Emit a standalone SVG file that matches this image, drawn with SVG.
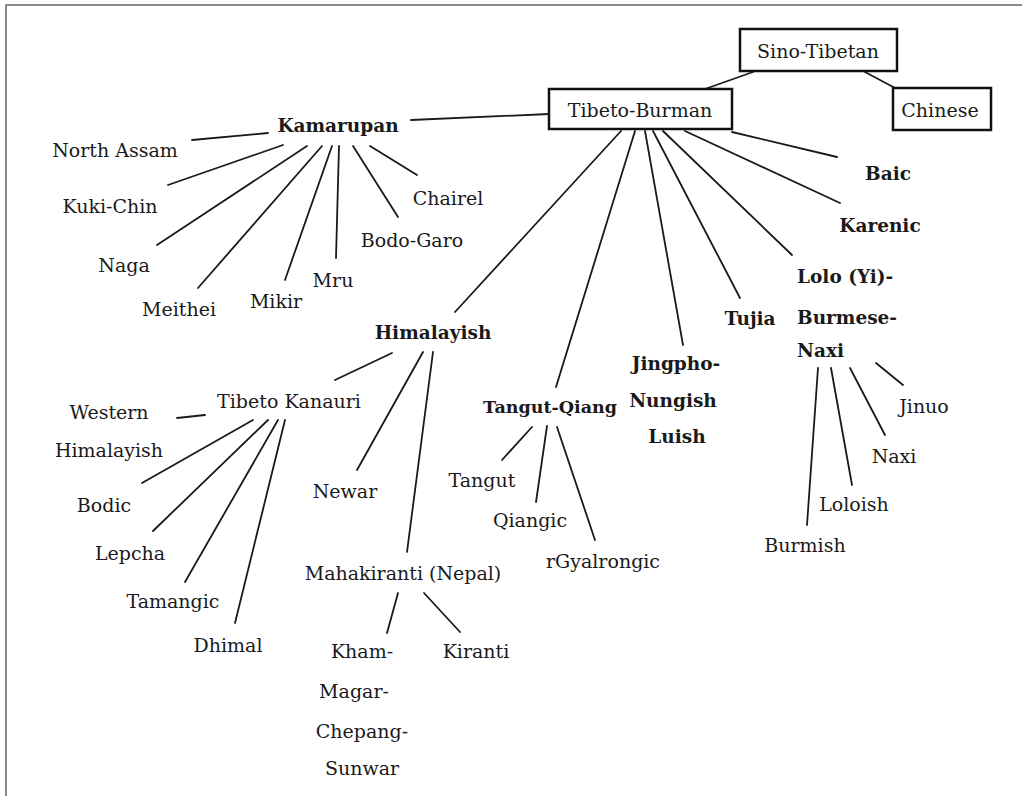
<svg xmlns="http://www.w3.org/2000/svg" width="1022" height="796" viewBox="0 0 1022 796">
<style>
text{font-family:"DejaVu Serif","Liberation Serif",serif;font-size:19px;fill:#1a1a1a;text-anchor:middle}
.b{font-weight:bold;font-size:18.5px}
.l{text-anchor:start}
.box{fill:#fff;stroke:#111;stroke-width:2.5}
#edges line{stroke:#1a1a1a;stroke-width:1.8;stroke-linecap:round}
</style>
<rect width="1022" height="796" fill="#fff"/>
<path d="M6,796 V5 H1022" fill="none" stroke="#666" stroke-width="1.5"/>
<g id="edges">
<line x1="753" y1="72" x2="705" y2="89"/>
<line x1="865" y1="72" x2="895" y2="88"/>
<line x1="411" y1="120" x2="549" y2="114"/>
<line x1="621" y1="131" x2="455" y2="312"/>
<line x1="635" y1="131" x2="556" y2="387"/>
<line x1="645" y1="131" x2="683" y2="345"/>
<line x1="653" y1="131" x2="740" y2="298"/>
<line x1="663" y1="131" x2="792" y2="255"/>
<line x1="685" y1="131" x2="840" y2="203"/>
<line x1="732" y1="132" x2="837" y2="157"/>
<line x1="192" y1="140" x2="268" y2="133"/>
<line x1="168" y1="185" x2="283" y2="145"/>
<line x1="157" y1="245" x2="307" y2="146"/>
<line x1="198" y1="288" x2="322" y2="146"/>
<line x1="285" y1="280" x2="332" y2="146"/>
<line x1="336" y1="258" x2="339" y2="146"/>
<line x1="398" y1="217" x2="353" y2="146"/>
<line x1="417" y1="175" x2="370" y2="146"/>
<line x1="392" y1="353" x2="335" y2="380"/>
<line x1="423" y1="352" x2="357" y2="470"/>
<line x1="433" y1="352" x2="407" y2="552"/>
<line x1="177" y1="418" x2="205" y2="415"/>
<line x1="142" y1="483" x2="253" y2="420"/>
<line x1="153" y1="531" x2="268" y2="420"/>
<line x1="185" y1="582" x2="278" y2="420"/>
<line x1="235" y1="623" x2="285" y2="420"/>
<line x1="398" y1="593" x2="387" y2="633"/>
<line x1="424" y1="593" x2="460" y2="632"/>
<line x1="532" y1="427" x2="502" y2="460"/>
<line x1="547" y1="426" x2="536" y2="502"/>
<line x1="557" y1="427" x2="595" y2="540"/>
<line x1="818" y1="368" x2="807" y2="525"/>
<line x1="831" y1="368" x2="852" y2="485"/>
<line x1="850" y1="368" x2="885" y2="435"/>
<line x1="876" y1="363" x2="903" y2="385"/>
</g>
<g id="sino-tibetan"><rect class="box" x="740" y="29" width="157" height="42"/><text x="818" y="58">Sino-Tibetan</text></g>
<g id="tibeto-burman"><rect class="box" x="549" y="89" width="183" height="40"/><text x="640" y="117">Tibeto-Burman</text></g>
<g id="chinese"><rect class="box" x="893" y="88" width="98" height="42"/><text x="940" y="117">Chinese</text></g>
<g id="kamarupan"><text class="b" x="338" y="132">Kamarupan</text></g>
<g id="north-assam"><text x="115" y="157">North Assam</text></g>
<g id="kuki-chin"><text x="110" y="213">Kuki-Chin</text></g>
<g id="naga"><text x="124" y="272">Naga</text></g>
<g id="meithei"><text x="179" y="316">Meithei</text></g>
<g id="mikir"><text x="276" y="308">Mikir</text></g>
<g id="mru"><text x="333" y="287">Mru</text></g>
<g id="bodo-garo"><text x="412" y="247">Bodo-Garo</text></g>
<g id="chairel"><text x="448" y="205">Chairel</text></g>
<g id="himalayish"><text class="b" x="433" y="339">Himalayish</text></g>
<g id="tibeto-kanauri"><text x="289" y="408">Tibeto Kanauri</text></g>
<g id="western-himalayish"><text x="109" y="419">Western</text><text x="109" y="457">Himalayish</text></g>
<g id="bodic"><text x="104" y="512">Bodic</text></g>
<g id="lepcha"><text x="130" y="560">Lepcha</text></g>
<g id="tamangic"><text x="173" y="608">Tamangic</text></g>
<g id="dhimal"><text x="228" y="652">Dhimal</text></g>
<g id="newar"><text x="345" y="498">Newar</text></g>
<g id="mahakiranti"><text x="403" y="580">Mahakiranti (Nepal)</text></g>
<g id="kham-magar"><text x="362" y="658">Kham-</text><text x="354" y="698">Magar-</text><text x="362" y="738">Chepang-</text><text x="362" y="775">Sunwar</text></g>
<g id="kiranti"><text x="476" y="658">Kiranti</text></g>
<g id="tangut-qiang"><text class="b" x="550" y="413" style="font-size:17.5px">Tangut-Qiang</text></g>
<g id="tangut"><text x="482" y="487">Tangut</text></g>
<g id="qiangic"><text x="530" y="527">Qiangic</text></g>
<g id="rgyalrongic"><text x="603" y="568">rGyalrongic</text></g>
<g id="jingpho"><text class="b" x="676" y="370">Jingpho-</text><text class="b" x="673" y="407">Nungish</text><text class="b" x="677" y="443">Luish</text></g>
<g id="tujia"><text class="b" x="750" y="325">Tujia</text></g>
<g id="lolo"><text class="b l" x="797" y="283">Lolo (Yi)-</text><text class="b l" x="797" y="324">Burmese-</text><text class="b l" x="797" y="357">Naxi</text></g>
<g id="baic"><text class="b" x="888" y="180">Baic</text></g>
<g id="karenic"><text class="b" x="880" y="232">Karenic</text></g>
<g id="jinuo"><text x="924" y="413">Jinuo</text></g>
<g id="naxi"><text x="894" y="463">Naxi</text></g>
<g id="loloish"><text x="854" y="511">Loloish</text></g>
<g id="burmish"><text x="805" y="552">Burmish</text></g>
</svg>
